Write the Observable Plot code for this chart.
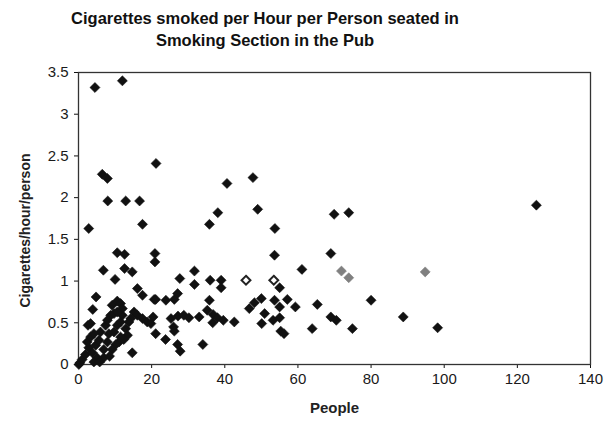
<!DOCTYPE html>
<html>
<head>
<meta charset="utf-8">
<script src="https://cdn.jsdelivr.net/npm/d3@7"></script>
<script src="https://cdn.jsdelivr.net/npm/@observablehq/plot@0.6"></script>
<style>
  html, body { margin: 0; padding: 0; background: #fff; }
  #wrap { width: 612px; height: 426px; position: relative; font-family: "Liberation Sans", Arial, sans-serif; }
  #title { position: absolute; left: 0; top: 7px; width: 530px; text-align: center; font-weight: bold; font-size: 16.5px; line-height: 22px; color: #111; }
  #chart { position: absolute; left: 0; top: 60px; }
  #chart [aria-label$="tick label"] { font-size: 15px; fill: #1a1a1a; }
</style>
</head>
<body>
<div id="wrap">
  <div id="title">Cigarettes smoked per Hour per Person seated in<br>Smoking Section in the Pub</div>
  <div id="chart"></div>
</div>
<script>
const titleText = "Cigarettes smoked per Hour per Person seated in Smoking Section in the Pub";
const xLabel = "People";
const yLabel = "Cigarettes/hour/person";
const xTicks = [0, 20, 40, 60, 80, 100, 120, 140];
const yTicks = [0, 0.5, 1, 1.5, 2, 2.5, 3, 3.5];

// black diamonds: people
const people = [
  4.5, 12, 21.2, 6.5, 7.9, 8.0, 12.9, 16.7, 40.6, 47.7, 38.1, 49.0, 35.8, 17.5, 2.8, 53.7, 69.9, 73.9, 125.2,
  10.6, 12.6, 20.9, 20.9, 53.6, 69.0, 6.8, 12.6, 14.7, 61.1, 31.7, 10.0, 27.7, 31.7, 36.0, 39.0, 39.0, 55.0,
  16.1, 17.5, 20.7, 4.8, 21.1, 23.9, 26.2, 27.1, 35.8, 46.7, 48.1, 50.0, 53.6, 55.0, 57.1, 59.3, 65.3, 80.0,
  3.9, 35.2, 36.8, 38.0, 39.6, 36.7, 42.6, 33.0, 25.3, 27.2, 28.8, 30.2, 20.4, 26.0, 26.2, 21.1, 23.8, 27.1,
  27.8, 34.0, 14.7, 50.9, 50.1, 53.2, 55.0, 55.3, 56.2, 63.9, 69.0, 70.5, 74.9, 88.8, 98.2,
  0.1, 0.4, 1.0, 1.9, 2.8, 2.4, 3.8, 4.7, 6.0, 5.6, 3.3, 2.6, 6.9, 6.9, 5.1, 4.2, 5.8, 7.9, 8.3, 9.7, 10.6,
  11.5, 12.0, 9.2, 10.6, 11.5, 12.0, 8.8, 9.7, 10.6, 7.4, 7.9, 12.9, 13.4, 12.4, 11.5, 11.1, 10.2, 9.2,
  15.2, 16.1, 17.5, 18.8, 19.8, 14.3, 13.8, 3.3, 4.2, 8.5
];
// black diamonds: cigarettes/hour/person
const cigs = [
  3.32, 3.40, 2.41, 2.28, 2.23, 1.96, 1.96, 1.96, 2.17, 2.24, 1.82, 1.86, 1.68, 1.68, 1.63, 1.63, 1.80, 1.82, 1.91,
  1.34, 1.32, 1.33, 1.23, 1.31, 1.33, 1.13, 1.15, 1.11, 1.14, 1.12, 1.02, 1.03, 0.96, 1.01, 1.01, 0.92, 0.92,
  0.91, 0.83, 0.78, 0.81, 0.78, 0.77, 0.78, 0.85, 0.77, 0.67, 0.74, 0.79, 0.77, 0.69, 0.78, 0.69, 0.72, 0.77,
  0.66, 0.65, 0.60, 0.56, 0.53, 0.50, 0.51, 0.57, 0.55, 0.58, 0.59, 0.56, 0.57, 0.45, 0.40, 0.37, 0.30, 0.24,
  0.16, 0.24, 0.14, 0.61, 0.49, 0.53, 0.56, 0.40, 0.37, 0.43, 0.57, 0.53, 0.43, 0.57, 0.44,
  0.00, 0.02, 0.06, 0.12, 0.20, 0.27, 0.14, 0.23, 0.39, 0.29, 0.49, 0.47, 0.18, 0.08, 0.08, 0.03, 0.03, 0.27, 0.37, 0.39, 0.47,
  0.51, 0.59, 0.71, 0.76, 0.73, 0.67, 0.59, 0.61, 0.63, 0.47, 0.53, 0.43, 0.35, 0.30, 0.33, 0.27, 0.24, 0.18,
  0.63, 0.59, 0.55, 0.51, 0.49, 0.55, 0.51, 0.33, 0.37, 0.10
];
// gray diamonds
const grayPeople = [71.9, 73.9, 94.8];
const grayCigs = [1.12, 1.04, 1.11];
// hollow diamonds
const hollowPeople = [45.8, 53.4];
const hollowCigs = [1.01, 1.01];

const black = people.map((p, i) => ({p, c: cigs[i]}));
const gray = grayPeople.map((p, i) => ({p, c: grayCigs[i]}));
const hollow = hollowPeople.map((p, i) => ({p, c: hollowCigs[i]}));

const chart = Plot.plot({
  width: 612,
  height: 366,
  marginTop: 12,
  marginLeft: 78,
  marginRight: 22,
  marginBottom: 62,
  style: {fontFamily: "Liberation Sans, Arial, sans-serif", fontSize: "14px", color: "#111", background: "#fff"},
  x: {domain: [0, 140], ticks: xTicks, label: null, tickSize: 4, tickPadding: 5},
  y: {domain: [0, 3.5], ticks: yTicks, label: null, tickSize: 4, tickPadding: 6, tickFormat: d => String(d)},
  marks: [
    Plot.frame({stroke: "#333", strokeWidth: 1.3}),
    Plot.dot(black, {x: "p", y: "c", symbol: "diamond2", r: 4.5, fill: "#111", stroke: "#111", strokeWidth: 0.6}),
    Plot.dot(gray, {x: "p", y: "c", symbol: "diamond2", r: 4.5, fill: "#808080", stroke: "#808080", strokeWidth: 0.6}),
    Plot.dot(hollow, {x: "p", y: "c", symbol: "diamond2", r: 4.0, fill: "#fff", stroke: "#222", strokeWidth: 2}),
    Plot.text([xLabel], {frameAnchor: "bottom", dy: 48, fontWeight: "bold", fontSize: 15, fill: "#222"}),
    Plot.text([yLabel], {frameAnchor: "left", textAnchor: "middle", dx: -53, dy: 12, rotate: -90, fontWeight: "bold", fontSize: 14, fill: "#222"})
  ]
});
document.getElementById("chart").appendChild(chart);
</script>
</body>
</html>
